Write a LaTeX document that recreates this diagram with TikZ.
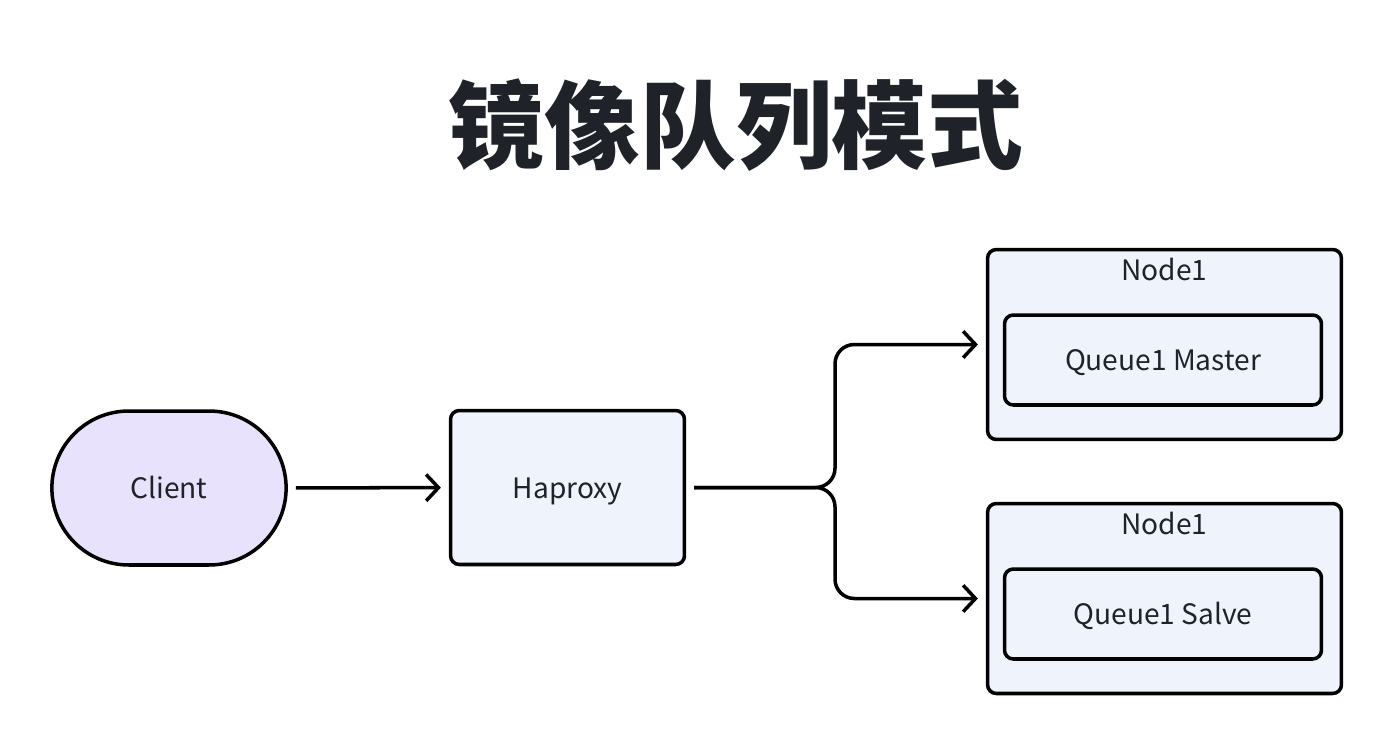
\documentclass[tikz,border=0pt]{standalone}
\usepackage{fontspec}
\setmainfont{Noto Sans CJK SC}
\usetikzlibrary{shapes.misc, arrows.meta, positioning}

\definecolor{clientfill}{HTML}{E9E2FD}
\definecolor{boxfill}{HTML}{EFF3FC}
\definecolor{textdark}{HTML}{1F2329}

\begin{document}
\begin{tikzpicture}[x=0.02cm, y=-0.02cm, line width=2pt,
    label/.style={text=textdark, font=\fontsize{16}{19}\selectfont, text height=12.5pt, text depth=0.5pt},
    box/.style={label, draw, fill=boxfill, rounded corners=5pt},
    link/.style={-{Straight Barb[length=7pt, width=15pt]}, shorten <=4.5pt, shorten >=4.5pt}]
        \useasboundingbox (0,0) rectangle (1392,744);

        % Title
        \node[text=textdark, font=\fontsize{54.5}{60}\selectfont\bfseries] (title) at (736,125) {镜像队列模式};

        % Client and proxy
        \node[label, rounded rectangle, draw, fill=clientfill,
              minimum width=4.92cm, minimum height=3.08cm] (client) at (169,488) {Client};
        \node[box, minimum width=4.68cm, minimum height=3.08cm] (haproxy) at (567.5,487.5) {Haproxy};

        % Upper node
        \node[box, minimum width=7.08cm, minimum height=3.8cm] (node1) at (1164.5,344.5) {};
        \node[label] (node1label) at (1164.5,270) {Node1};
        \node[box, minimum width=6.34cm, minimum height=1.8cm] (master) at (1163,360) {Queue1 Master};

        % Lower node
        \node[box, minimum width=7.08cm, minimum height=3.8cm] (node2) at (1164.5,598.5) {};
        \node[label] (node2label) at (1164.5,524) {Node1};
        \node[box, minimum width=6.34cm, minimum height=1.8cm] (salve) at (1163,614) {Queue1 Salve};

        % Connectors
        \coordinate (split) at (835,487.5);
        \draw[link] (client) -- (haproxy);
        \draw[link, rounded corners=11pt] (haproxy.east) -- (split) |- (node1.west);
        \draw[link, rounded corners=11pt] (haproxy.east) -- (split) |- (node2.west);
\end{tikzpicture}
\end{document}
